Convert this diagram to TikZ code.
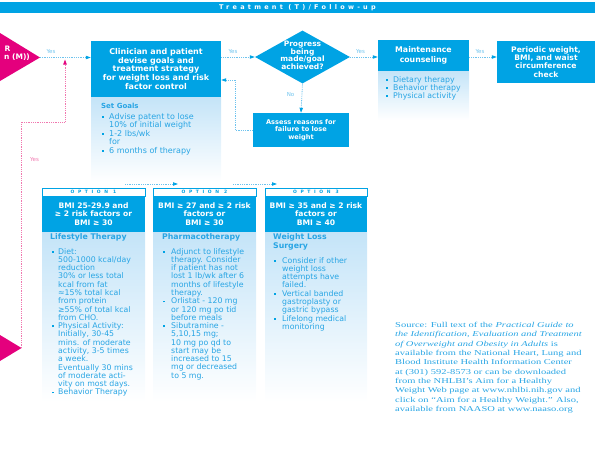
\documentclass[tikz,border=0pt]{standalone}
\usepackage{fontspec}
\setmainfont{DejaVu Sans}
\newfontfamily\srcfont[FakeStretch=1.4]{Liberation Serif}
\newfontfamily\spacedfont[LetterSpace=50]{DejaVu Sans}
\newfontfamily\optspaced[LetterSpace=80]{DejaVu Sans}
\usetikzlibrary{shapes.geometric,arrows.meta}

\definecolor{tblue}{RGB}{0,163,228}
\definecolor{lineblue}{RGB}{110,195,238}
\definecolor{paleblue}{RGB}{196,228,248}
\definecolor{textblue}{RGB}{40,165,228}
\definecolor{tmagenta}{RGB}{228,0,125}
\definecolor{tpink}{RGB}{240,120,175}

\newcommand\bul{\textcolor{tblue}{\rule[1.5pt]{1.8pt}{1.8pt}}}

\tikzset{
  box/.style={fill=tblue, text=white, align=center, inner sep=0pt,
    font=\bfseries\fontsize{7.6}{8.3}\selectfont},
  decision/.style={diamond, fill=tblue, inner sep=0pt,
    minimum width=95pt, minimum height=53pt},
  flow/.style={draw=lineblue, line width=0.8pt, dash pattern=on 0.9pt off 0.9pt,
    -{Triangle[length=5pt,width=3.4pt,color=tblue]}},
  pinkflow/.style={draw=tpink, line width=0.8pt, dash pattern=on 0.9pt off 0.9pt,
    -{Triangle[length=5pt,width=3.4pt,color=tmagenta]}},
  yeslabel/.style={text=lineblue, inner sep=0pt, font=\fontsize{5.5}{6}\selectfont},
  panel/.style={top color=paleblue, bottom color=white},
  ptitle/.style={anchor=base west, inner sep=0pt, text=textblue, align=left,
    font=\bfseries\fontsize{7.8}{9}\selectfont},
  plist/.style={anchor=base west, inner sep=0pt, text=textblue,
    font=\fontsize{7.8}{7.87}\selectfont},
  opthead/.style={draw=tblue, fill=white, line width=0.7pt, minimum width=103pt,
    minimum height=8pt, inner sep=0pt, text=tblue,
    font=\optspaced\bfseries\fontsize{4.5}{5}\selectfont},
}

\begin{document}
\begin{tikzpicture}[x=1pt,y=-1pt]
\useasboundingbox (0,0) rectangle (600,450);

% Title bar
\node[fill=tblue, minimum width=595pt, minimum height=11.5pt, inner sep=0pt, text=white,
  font=\spacedfont\bfseries\fontsize{6.5}{7}\selectfont] (title) at (297.5,7.5) {Treatment (T)/Follow-up};

% Entry triangles
\fill[tmagenta] (0,33) -- (40,57.5) -- (0,81) -- cycle;
\coordinate (mtip) at (40,57.5);
\node[text=white, inner sep=0pt, font=\bfseries\fontsize{7.5}{8}\selectfont] (mR) at (7.5,49) {R};
\node[anchor=west, text=white, inner sep=0pt, font=\bfseries\fontsize{7.5}{8}\selectfont] (mM) at (4,57.5) {n (M))};
\fill[tmagenta] (0,335) -- (21.5,348) -- (0,361) -- cycle;
\coordinate (btip) at (21.5,348);
\coordinate (pinkend) at (65,59.5);

% Clinician and goals
\shade[panel] (91,97) rectangle (221,182);
\node[box, minimum width=130pt, minimum height=56pt, font=\bfseries\fontsize{8}{8.6}\selectfont] (clin) at (156,69)
  {Clinician and patient\\devise goals and\\treatment strategy\\for weight loss and risk\\factor control};
\node[ptitle, font=\bfseries\fontsize{7}{8}\selectfont] (goalstitle) at (101,108.3) {Set Goals};
\node[plist, font=\fontsize{8}{8.2}\selectfont] (goalslist) at (102,119.2) {\begin{tabular}[t]{@{}p{7pt}@{}l@{}}
  \bul & Advise patent to lose\\
       & 10\% of initial weight\\
  \bul & 1-2 lbs/wk\\
       & for\\
  \bul & 6 months of therapy
\end{tabular}};

% Decision
\node[decision] (prog) at (302.5,57) {};
\node[text=white, align=center, inner sep=0pt, font=\bfseries\fontsize{7.5}{7.6}\selectfont] (progtext) at (302.5,55.5)
  {Progress\\being\\made/goal\\achieved?};
\node[box, minimum width=96pt, minimum height=34pt, font=\bfseries\fontsize{6.6}{7.7}\selectfont] (assess) at (301,130)
  {Assess reasons for\\failure to lose\\weight};

% Maintenance
\shade[panel] (378,71) rectangle (469,120);
\node[box, minimum width=91pt, minimum height=31pt, font=\bfseries\fontsize{7.8}{9.7}\selectfont] (maint) at (423.5,55.5)
  {Maintenance\\counseling};
\node[plist, font=\fontsize{7.8}{7.5}\selectfont] (maintlist) at (386,82.1) {\begin{tabular}[t]{@{}p{7pt}@{}l@{}}
  \bul & Dietary therapy\\
  \bul & Behavior therapy\\
  \bul & Physical activity
\end{tabular}};
\node[box, minimum width=98pt, minimum height=42pt] (period) at (546,62)
  {Periodic weight,\\BMI, and waist\\circumference\\check};

% Connectors
\draw[flow] (mtip) -- (mtip -| clin.west);
\draw[flow] (prog -| clin.east) -- (prog.west);
\draw[flow] (prog.east) -- (prog -| maint.west);
\draw[flow] (prog -| maint.east) -- (prog -| period.west);
\draw[flow] (prog.south) -- (assess.north);
\draw[flow] (assess.west) -| (235,80) -- ([yshift=-11pt]clin.east);
\draw[pinkflow] (btip) |- (65,122) -- (pinkend);
\node[yeslabel] (yes1) at (51,52) {Yes};
\node[yeslabel] (yes2) at (233,52) {Yes};
\node[yeslabel] (yes3) at (360.5,52) {Yes};
\node[yeslabel] (yes4) at (480,52) {Yes};
\node[yeslabel] (no1) at (290.5,95) {No};
\node[yeslabel, text=tpink] (yes5) at (34.5,160) {Yes};

% Small arrows over the options
\coordinate (o1a) at (125,184);
\coordinate (o1b) at (178,184);
\coordinate (o2a) at (233,184);
\coordinate (o2b) at (277,184);
\draw[flow] (o1a) -- (o1b);
\draw[flow] (o2a) -- (o2b);

% Option 1
\shade[panel] (42,232) rectangle (145,402);
\node[opthead] (opt1head) at (93.5,192) {OPTION 1};
\node[box, minimum width=103pt, minimum height=36pt] (opt1box) at (93.5,214)
  {BMI 25-29.9 and\\≥ 2 risk factors or\\BMI ≥ 30};
\node[ptitle] (opt1title) at (50,239.5) {Lifestyle Therapy};
\node[plist] (opt1list) at (52,254.1) {\begin{tabular}[t]{@{}p{6pt}@{}l@{}}
  \bul & Diet:\\
       & 500-1000 kcal/day\\
       & reduction\\
       & 30\% or less total\\
       & kcal from fat\\
       & ≈15\% total kcal\\
       & from protein\\
       & ≥55\% of total kcal\\
       & from CHO.\\
  \bul & Physical Activity:\\
       & Initially, 30-45\\
       & mins. of moderate\\
       & activity, 3-5 times\\
       & a week.\\
       & Eventually 30 mins\\
       & of moderate acti-\\
       & vity on most days.\\
  \bul & Behavior Therapy
\end{tabular}};

% Option 2
\shade[panel] (153,232) rectangle (256,402);
\node[opthead] (opt2head) at (204.5,192) {OPTION 2};
\node[box, minimum width=103pt, minimum height=36pt] (opt2box) at (204.5,214)
  {BMI ≥ 27 and ≥ 2 risk\\factors or\\BMI ≥ 30};
\node[ptitle] (opt2title) at (162,239.5) {Pharmacotherapy};
\node[plist] (opt2list) at (163,254.1) {\begin{tabular}[t]{@{}p{8pt}@{}l@{}}
  \bul & Adjunct to lifestyle\\
       & therapy. Consider\\
       & if patient has not\\
       & lost 1 lb/wk after 6\\
       & months of lifestyle\\
       & therapy.\\
  \bul & Orlistat - 120 mg\\
       & or 120 mg po tid\\
       & before meals\\
  \bul & Sibutramine -\\
       & 5,10,15 mg;\\
       & 10 mg po qd to\\
       & start may be\\
       & increased to 15\\
       & mg or decreased\\
       & to 5 mg.
\end{tabular}};

% Option 3
\shade[panel] (265,232) rectangle (367,402);
\node[opthead, minimum width=102pt] (opt3head) at (316,192) {OPTION 3};
\node[box, minimum width=102pt, minimum height=36pt] (opt3box) at (316,214)
  {BMI ≥ 35 and ≥ 2 risk\\factors or\\BMI ≥ 40};
\node[ptitle] (opt3title) at (273,248.5) {Weight Loss\\Surgery};
\node[plist] (opt3list) at (274,263.1) {\begin{tabular}[t]{@{}p{8pt}@{}l@{}}
  \bul & Consider if other\\
       & weight loss\\
       & attempts have\\
       & failed.\\
  \bul & Vertical banded\\
       & gastroplasty or\\
       & gastric bypass\\
  \bul & Lifelong medical\\
       & monitoring
\end{tabular}};

% Source note
\node[anchor=base west, inner sep=0pt, align=left, text=textblue,
  font=\srcfont\fontsize{7.5}{9.33}\selectfont] (source) at (395,411.5)
  {Source: Full text of the \textit{Practical Guide to}\\
   \textit{the Identification, Evaluation and Treatment}\\
   \textit{of Overweight and Obesity in Adults} is\\
   available from the National Heart, Lung and\\
   Blood Institute Health Information Center\\
   at (301) 592-8573 or can be downloaded\\
   from the NHLBI’s Aim for a Healthy\\
   Weight Web page at www.nhlbi.nih.gov and\\
   click on “Aim for a Healthy Weight.” Also,\\
   available from NAASO at www.naaso.org};
\end{tikzpicture}
\end{document}
